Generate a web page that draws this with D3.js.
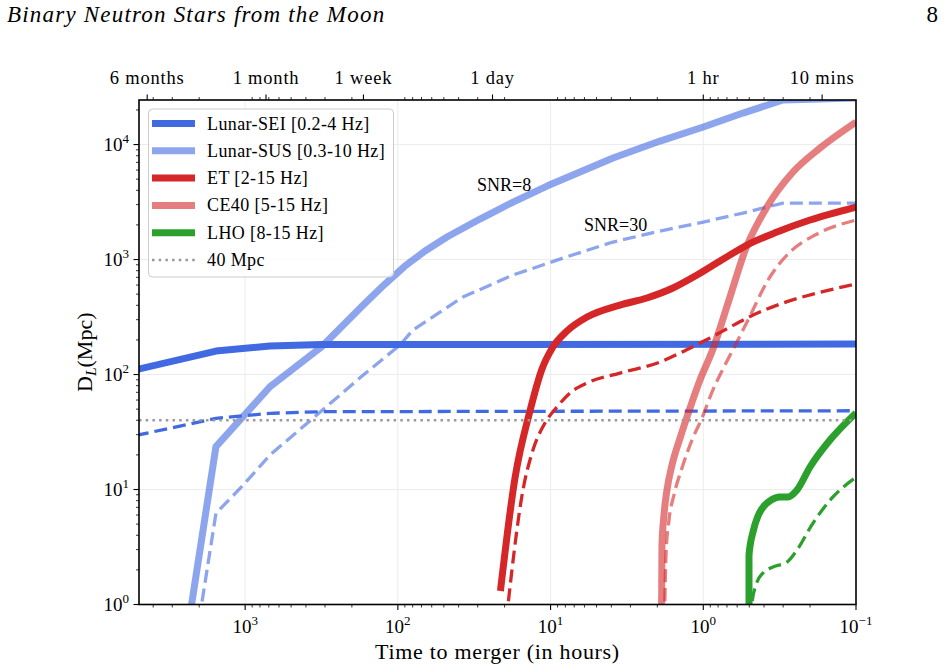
<!DOCTYPE html>
<html><head><meta charset="utf-8">
<script src="https://cdn.jsdelivr.net/npm/d3@7"></script>
<style>
html,body{margin:0;padding:0;background:#fff;}
svg{display:block;}
text{font-family:"Liberation Serif","Times New Roman",serif;fill:#000;}
</style></head>
<body>
<script>
// ---------------- DATA (hours to merger, luminosity distance in Mpc) ----------------
const seiSolidT = [5200, 1553, 688, 315, 0.1];
const seiSolidD = [110, 160, 177, 182, 184];
const seiDashT  = [5200, 1553, 688, 315, 0.1];
const seiDashD  = [29.5, 41.6, 46, 47.5, 48.4];

const susSolidT = [2326, 1553, 688, 315.5, 168.5, 121.5, 89.9, 66.4, 47.7, 29.0, 17.6, 10.56, 6.42, 3.90, 1.92, 1.0, 0.55, 0.301, 0.1];
const susSolidD = [0.73, 23.6, 78.3, 174.5, 402, 612, 878, 1186, 1569, 2250, 3162, 4356, 5767, 7630, 10725, 14200, 18790, 24380, 25370];
const susDashT  = [2001, 1553, 1029, 688, 340, 168.5, 96.9, 79.6, 37.5, 17.6, 8.29, 3.90, 1.92, 1.0, 0.55, 0.301, 0.1];
const susDashD  = [0.73, 6.21, 10.94, 19.95, 44.4, 99.0, 180.5, 243.8, 472, 733, 1030, 1420, 1769, 2119, 2537, 3099, 3099];

const etSolidT = [21.3, 17.1, 13.64, 11.38, 9.65, 7.81, 5.77, 3.51, 2.34, 1.58, 1.10, 0.777, 0.517, 0.329, 0.200, 0.1];
const etSolidD = [1.31, 12.59, 48.2, 111.6, 173.4, 238.9, 316.2, 402, 462.8, 565, 733, 970, 1337, 1734, 2205, 2861];
const etDashT  = [19.5, 15.16, 13.04, 10.88, 9.08, 7.46, 5.77, 3.51, 1.92, 1.42, 1.05, 0.904, 0.668, 0.517, 0.301, 0.180, 0.1];
const etDashD  = [0.73, 9.90, 22.05, 37.9, 52.2, 69.1, 84.4, 103, 128.5, 153.8, 187.9, 207.7, 258.8, 310, 418.6, 511, 612];

const ceSolidT = [1.878, 1.864, 1.809, 1.729, 1.603, 1.42, 1.222, 1.051, 0.864, 0.679, 0.525, 0.383, 0.2586, 0.172, 0.1];
const ceSolidD = [0.73, 3.29, 6.00, 9.90, 16.3, 28.0, 51.1, 89.6, 166.6, 444, 1259, 2861, 5767, 9324, 15690];
const ceDashT  = [1.795, 1.755, 1.677, 1.556, 1.379, 1.186, 1.02, 0.877, 0.721, 0.593, 0.502, 0.377, 0.2705, 0.1856, 0.1];
const ceDashD  = [0.73, 2.69, 5.43, 8.96, 15.4, 26.9, 41.8, 70.4, 121, 199.5, 310, 663, 1162, 1633, 2205];

const lhoSolidT = [0.502, 0.502, 0.4727, 0.4384, 0.4004, 0.3597, 0.3177, 0.2788, 0.2434, 0.2, 0.148, 0.1];
const lhoSolidD = [0.73, 2.69, 4.27, 5.88, 7.19, 8.10, 8.61, 8.61, 9.90, 15.7, 26.9, 46.3];
const lhoDashT  = [0.487, 0.48, 0.4517, 0.4064, 0.3497, 0.2831, 0.2434, 0.1912, 0.1415, 0.1];
const lhoDashD  = [0.73, 1.03, 1.48, 1.88, 2.12, 2.34, 2.98, 5.11, 8.61, 12.8];

const refDistance = 40;

const legendLabels = ["Lunar-SEI [0.2-4 Hz]", "Lunar-SUS [0.3-10 Hz]", "ET [2-15 Hz]", "CE40 [5-15 Hz]", "LHO [8-15 Hz]", "40 Mpc"];
const topTickHours  = [4380, 730, 168, 24, 1, 1/6];
const topTickLabels = ["6 months", "1 month", "1 week", "1 day", "1 hr", "10 mins"];
const xMajorExps = [3, 2, 1, 0, -1];
const yMajorExps = [0, 1, 2, 3, 4];
const xDomain = [4955, 0.1];
const yDomain = [1, 24400];

// ---------------- LAYOUT ----------------
const W = 946, H = 670;
const L = 139, R = 856, T = 100, B = 604.5;

const svg = d3.select("body").append("svg").attr("width", W).attr("height", H);

const x = d3.scaleLog().domain(xDomain).range([L, R]);
const y = d3.scaleLog().domain(yDomain).range([B, T]);

// header
svg.append("text").attr("x", 7).attr("y", 22).attr("font-size", 23).attr("font-style", "italic")
  .attr("letter-spacing", 1.2).text("Binary Neutron Stars from the Moon");
svg.append("text").attr("x", 938).attr("y", 22).attr("font-size", 23).attr("text-anchor", "end").text("8");

// clip
svg.append("defs").append("clipPath").attr("id", "clip")
  .append("rect").attr("x", L).attr("y", T).attr("width", R - L).attr("height", B - T);

// grid
const grid = svg.append("g");
xMajorExps.forEach(e => {
  const px = x(Math.pow(10, e));
  if (px > L + 1 && px < R - 1)
    grid.append("line").attr("x1", px).attr("x2", px).attr("y1", T).attr("y2", B)
      .attr("stroke", "#ececec").attr("stroke-width", 1);
});
yMajorExps.forEach(e => {
  const py = y(Math.pow(10, e));
  if (py > T + 1 && py < B - 1)
    grid.append("line").attr("x1", L).attr("x2", R).attr("y1", py).attr("y2", py)
      .attr("stroke", "#ececec").attr("stroke-width", 1);
});

// lines
const plot = svg.append("g").attr("clip-path", "url(#clip)");
const zip = (a, b) => a.map((v, i) => [v, b[i]]);
const lineSmooth = d3.line().x(d => x(d[0])).y(d => y(d[1])).curve(d3.curveMonotoneX);
const lineLin = d3.line().x(d => x(d[0])).y(d => y(d[1]));

const SOLID_W = 7, DASH_W = 3.3, DASH = "13,6";
const series = [
  {t: seiSolidT, d: seiSolidD, c: "#4169E1", o: 1, w: SOLID_W, dash: null, lin: true},
  {t: seiDashT,  d: seiDashD,  c: "#4169E1", o: 1, w: DASH_W, dash: DASH, lin: true},
  {t: susSolidT, d: susSolidD, c: "#4169E1", o: 0.6, w: SOLID_W, dash: null, lin: true},
  {t: susDashT,  d: susDashD,  c: "#4169E1", o: 0.6, w: DASH_W, dash: DASH, lin: true},
  {t: etSolidT,  d: etSolidD,  c: "#D62728", o: 1, w: SOLID_W, dash: null, lin: false},
  {t: etDashT,   d: etDashD,   c: "#D62728", o: 1, w: DASH_W, dash: DASH, lin: false},
  {t: ceSolidT,  d: ceSolidD,  c: "#D62728", o: 0.6, w: SOLID_W, dash: null, lin: false},
  {t: ceDashT,   d: ceDashD,   c: "#D62728", o: 0.6, w: DASH_W, dash: DASH, lin: false},
  {t: lhoSolidT, d: lhoSolidD, c: "#2CA02C", o: 1, w: SOLID_W, dash: null, lin: false},
  {t: lhoDashT,  d: lhoDashD,  c: "#2CA02C", o: 1, w: DASH_W, dash: DASH, lin: false},
];
series.forEach(s => {
  const pts = zip(s.t, s.d).sort((a, b) => x(a[0]) - x(b[0]));
  const p = plot.append("path").attr("d", (s.lin ? lineLin : lineSmooth)(pts))
    .attr("fill", "none").attr("stroke", s.c).attr("stroke-opacity", s.o)
    .attr("stroke-width", s.w).attr("stroke-linejoin", "round").attr("stroke-linecap", "butt");
  if (s.dash) p.attr("stroke-dasharray", s.dash);
});
// 40 Mpc reference
plot.append("line").attr("x1", L).attr("x2", R).attr("y1", y(refDistance)).attr("y2", y(refDistance))
  .attr("stroke", "#999").attr("stroke-width", 2.5).attr("stroke-dasharray", "2.5,4.2");

// annotations
svg.append("text").attr("x", 477).attr("y", 191).attr("font-size", 18).text("SNR=8");
svg.append("text").attr("x", 584).attr("y", 231).attr("font-size", 18).text("SNR=30");

// axes frame
svg.append("rect").attr("x", L).attr("y", T).attr("width", R - L).attr("height", B - T)
  .attr("fill", "none").attr("stroke", "#000").attr("stroke-width", 1.6);

// ticks
const ax = svg.append("g").attr("stroke", "#000");
function minorVals(dom) {
  const lo = Math.min(dom[0], dom[1]), hi = Math.max(dom[0], dom[1]);
  const out = [];
  for (let e = Math.floor(Math.log10(lo)) - 1; e <= Math.ceil(Math.log10(hi)); e++)
    for (let k = 2; k <= 9; k++) { const v = k * Math.pow(10, e); if (v >= lo && v <= hi) out.push(v); }
  return out;
}
// bottom
xMajorExps.forEach(e => {
  const px = x(Math.pow(10, e));
  ax.append("line").attr("x1", px).attr("x2", px).attr("y1", B).attr("y2", B + 5.5).attr("stroke-width", 1.1);
  const t = svg.append("text").attr("x", px).attr("y", 633).attr("font-size", 19).attr("text-anchor", "middle");
  t.append("tspan").text("10");
  t.append("tspan").attr("dy", -8).attr("font-size", 13).text(e < 0 ? "\u2212" + (-e) : String(e));
});
minorVals(xDomain).forEach(v => {
  const px = x(v);
  ax.append("line").attr("x1", px).attr("x2", px).attr("y1", B).attr("y2", B + 3).attr("stroke-width", 0.8);
  ax.append("line").attr("x1", px).attr("x2", px).attr("y1", T).attr("y2", T - 3).attr("stroke-width", 0.8);
});
// top majors
topTickHours.forEach((h, i) => {
  const px = x(h);
  ax.append("line").attr("x1", px).attr("x2", px).attr("y1", T).attr("y2", T - 5.5).attr("stroke-width", 1.1);
  svg.append("text").attr("x", px).attr("y", 84).attr("font-size", 18.5).attr("letter-spacing", 0.8)
    .attr("text-anchor", "middle").text(topTickLabels[i]);
});
// left
yMajorExps.forEach(e => {
  const py = y(Math.pow(10, e));
  ax.append("line").attr("x1", L).attr("x2", L - 5.5).attr("y1", py).attr("y2", py).attr("stroke-width", 1.1);
  const t = svg.append("text").attr("x", 129).attr("y", py + 6).attr("font-size", 19).attr("text-anchor", "end");
  t.append("tspan").text("10");
  t.append("tspan").attr("dy", -8).attr("font-size", 13).text(String(e));
});
minorVals(yDomain).forEach(v => {
  const py = y(v);
  ax.append("line").attr("x1", L).attr("x2", L - 3).attr("y1", py).attr("y2", py).attr("stroke-width", 0.8);
});

// axis labels
svg.append("text").attr("x", (L + R) / 2).attr("y", 659).attr("font-size", 22).attr("letter-spacing", 0.7)
  .attr("text-anchor", "middle").text("Time to merger (in hours)");
const yl = svg.append("text").attr("transform", `translate(92,${(T + B) / 2}) rotate(-90)`)
  .attr("font-size", 22).attr("text-anchor", "middle");
yl.append("tspan").text("D");
yl.append("tspan").attr("dy", 4).attr("font-size", 15.5).attr("font-style", "italic").text("L");
yl.append("tspan").attr("dy", -4).text("(Mpc)");

// legend
const lg = svg.append("g");
lg.append("rect").attr("x", 148.5).attr("y", 109).attr("width", 245).attr("height", 168).attr("rx", 4)
  .attr("fill", "#fff").attr("fill-opacity", 0.8).attr("stroke", "#cccccc").attr("stroke-width", 1);
const legStyles = [
  {c: "#4169E1", o: 1, w: SOLID_W, dash: null},
  {c: "#4169E1", o: 0.6, w: SOLID_W, dash: null},
  {c: "#D62728", o: 1, w: SOLID_W, dash: null},
  {c: "#D62728", o: 0.6, w: SOLID_W, dash: null},
  {c: "#2CA02C", o: 1, w: SOLID_W, dash: null},
  {c: "#999", o: 1, w: 2.5, dash: "2.5,4.2"},
];
legendLabels.forEach((lab, i) => {
  const ry = 123.5 + i * 27.3;
  const st = legStyles[i];
  const ln = lg.append("line").attr("x1", 152).attr("x2", 195).attr("y1", ry).attr("y2", ry)
    .attr("stroke", st.c).attr("stroke-opacity", st.o).attr("stroke-width", st.w);
  if (st.dash) ln.attr("stroke-dasharray", st.dash);
  lg.append("text").attr("x", 207).attr("y", ry + 6).attr("font-size", 18).attr("letter-spacing", 0.38).text(lab);
});
</script>
</body></html>
